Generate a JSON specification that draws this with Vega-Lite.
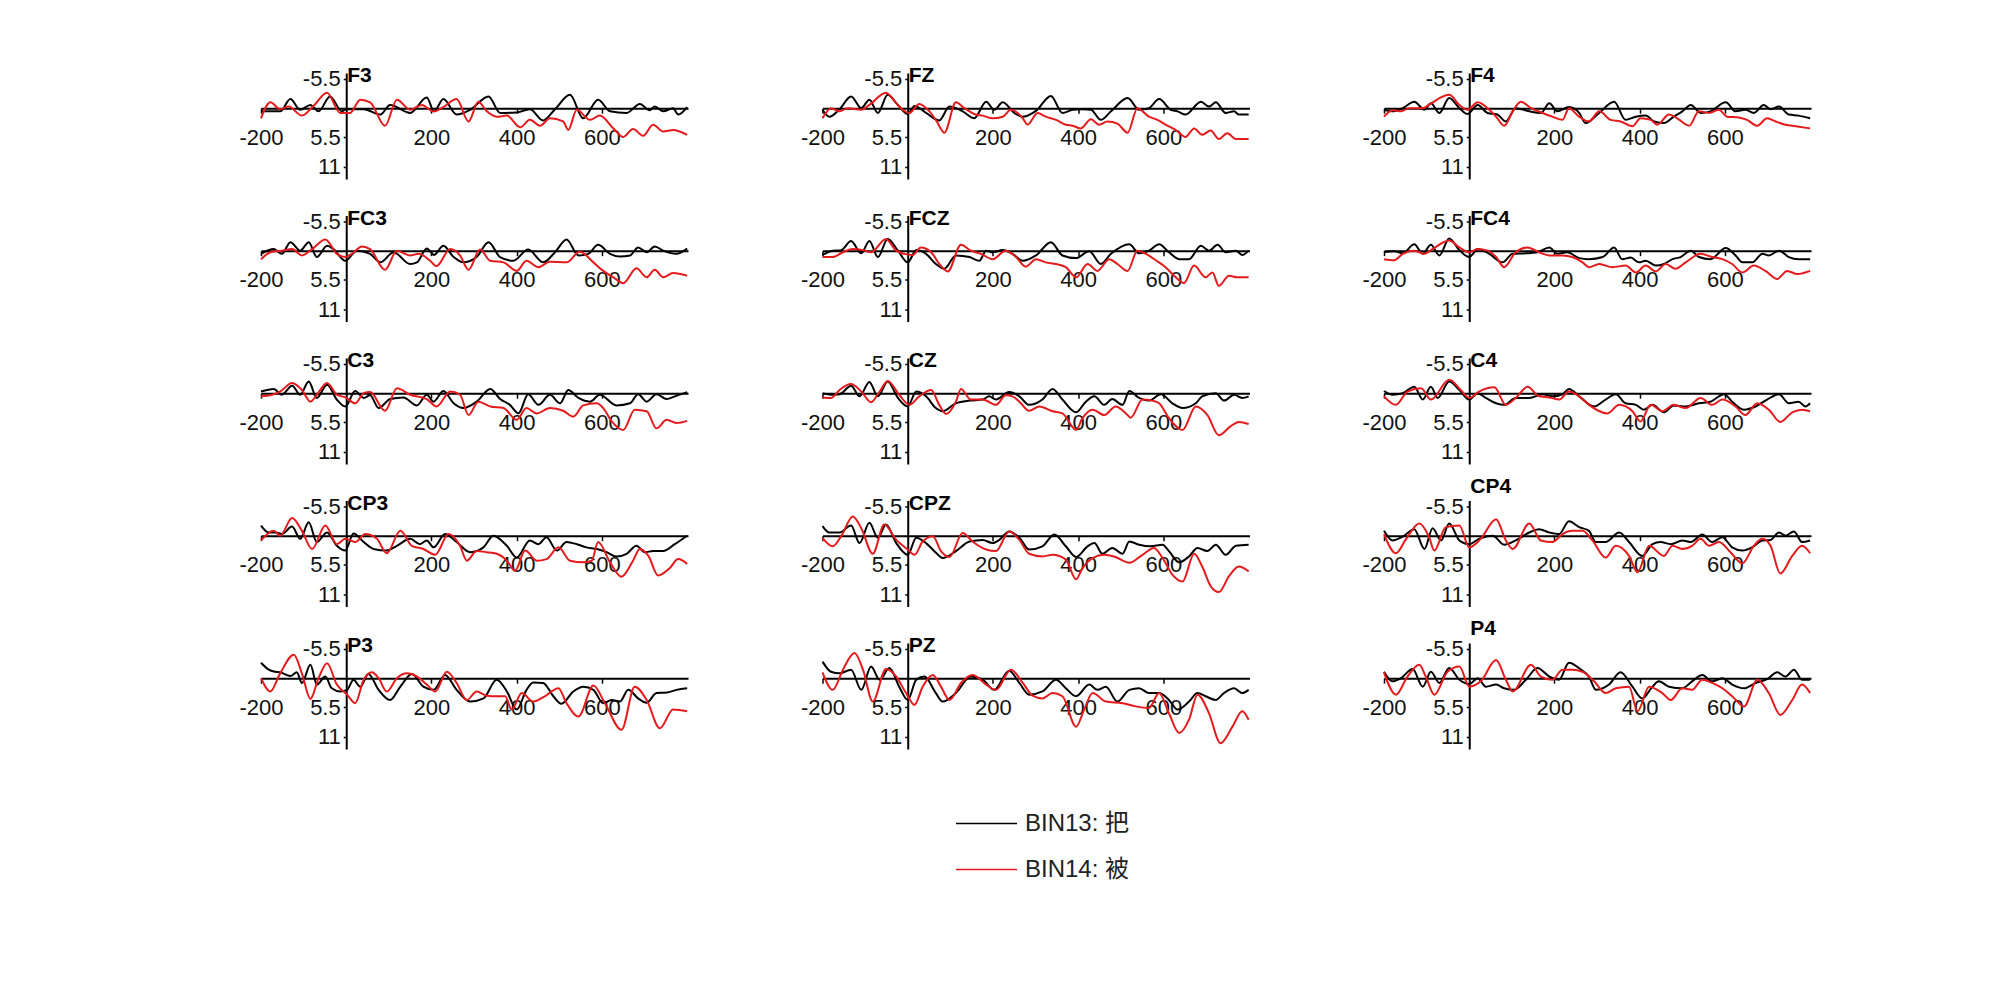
{
  "$schema": "https://vega.github.io/schema/vega-lite/v6.json",
  "background": "white",
  "padding": {"left": 238, "top": 65, "right": 5, "bottom": 5},
  "config": {"view": {"stroke": null}, "font": "Liberation Sans",
             "header": {"labels": false, "title": null, "labelFontSize": 0, "labelPadding": 0, "labelExpr": "''"},
             "headerFacet": {"labels": false, "title": null, "labelFontSize": 0, "labelPadding": 0, "labelExpr": "''"}},
  "data": {"values": [
    {"ch":"F3","bin":"BIN13: 把","t":[-200,-155,-131,-108,-84,-65,-38,-10,0,41,80,103,150,189,206,228,259,291,334,361,400,431,462,490,525,556,591,619,658,689,712,724,744,767,779,800],"v":[0.6,0.6,-1.7,0.3,-0.6,0.6,-2.2,0.6,0.2,0.2,1.2,-0.6,0.9,-2.0,0.6,-1.7,1.2,0.3,-2.2,0.9,0.8,0.2,2.3,0.2,-2.5,1.9,-1.6,0.6,0.9,-0.8,0.4,-0.3,0.6,0,1.2,-0.2]},
    {"ch":"F3","bin":"BIN14: 被","t":[-200,-178,-155,-135,-104,-77,-45,-14,9,33,56,91,119,150,177,205,228,259,287,310,330,353,377,408,431,455,478,509,521,541,572,595,627,650,673,697,720,744,767,800],"v":[1.9,-1.1,0.2,-0.3,1.4,-0.4,-2.9,0.9,0.9,-1.6,-1.1,3.3,-1.6,0.3,-0.6,0.6,-0.2,-1.7,2.5,-1.2,0.6,1.6,1.4,3.6,2.2,3.3,1.9,2.5,4.1,0.3,2.2,1.4,3.8,5.4,3.9,5.2,3.1,4.4,4.1,5.0]},
    {"ch":"FC3","bin":"BIN13: 把","t":[-200,-170,-151,-131,-108,-88,-69,-45,-30,-2,25,56,80,111,150,166,189,206,228,252,275,306,334,361,392,427,462,490,517,545,568,591,619,642,666,685,705,724,744,775,800],"v":[0.6,-0.3,0.6,-1.6,0,-1.6,1.2,-0.9,-0.3,1.9,0,0.6,2.2,0.3,2.5,2.2,-0.4,0.8,-0.9,1.2,2.2,1.2,-1.6,1.2,1.9,-0.2,2.2,0.3,-2.1,0.9,0.6,-1.1,0.6,1.1,0.9,-0.6,0.3,-0.8,0,0.6,-0.4]},
    {"ch":"FC3","bin":"BIN14: 被","t":[-200,-178,-151,-127,-104,-80,-49,-22,-2,13,37,56,91,119,150,170,197,212,244,267,287,314,338,369,400,423,451,478,517,548,580,603,627,650,681,705,724,744,767,800],"v":[1.6,0.3,0,-0.3,0.9,-0.3,-2.1,0.6,1.2,0.6,-0.8,-0.3,3.6,0,0.9,0.6,1.9,2.9,-0.3,0.9,3.6,-0.2,1.9,2.2,3.8,1.9,3.1,2.1,2.2,0.2,2.2,3.8,5.0,6.1,3.3,5.0,3.6,5.0,4.2,4.7]},
    {"ch":"C3","bin":"BIN13: 把","t":[-200,-170,-151,-127,-108,-88,-69,-45,-22,-2,21,41,56,76,103,134,166,189,205,228,252,275,306,338,361,384,404,427,451,478,502,521,545,572,595,634,666,685,705,728,752,771,800],"v":[-0.3,-0.8,0.3,-1.4,0.3,-2.2,0.9,-1.6,1.2,2.5,-0.4,0.9,0.4,2.8,1.1,0.8,2.3,0.3,1.6,-0.4,1.9,2.8,1.6,-0.8,1.1,2.2,3.8,0.2,2.2,0.3,1.9,-0.6,0.9,1.6,0.3,2.3,1.9,0.2,1.6,0.2,1.1,0.6,-0.2]},
    {"ch":"C3","bin":"BIN14: 被","t":[-200,-174,-155,-127,-104,-84,-69,-45,-22,-2,21,41,56,91,119,150,189,212,244,267,287,310,338,369,400,423,447,478,509,533,556,588,603,623,650,677,705,728,752,775,800],"v":[0.6,0.3,-0.3,-1.9,-0.6,1.6,0.3,-1.9,0.3,0.8,1.9,0,-0.2,3.3,-0.9,0.3,1.1,2.5,-0.3,0.3,4.1,1.6,2.5,2.8,5.0,2.8,3.8,2.8,3.3,4.4,2.3,1.9,2.8,5.3,6.9,3.1,3.4,6.6,5.0,5.6,5.2]},
    {"ch":"CP3","bin":"BIN13: 把","t":[-200,-182,-166,-151,-127,-108,-88,-69,-45,-22,-2,17,41,64,95,119,150,173,189,205,232,259,291,322,345,377,400,431,451,470,494,517,541,564,588,611,634,658,681,701,720,744,771,800],"v":[-1.9,-0.6,-0.6,-0.3,-1.7,0.6,-2.5,1.2,-0.6,1.9,2.8,-0.4,1.2,2.5,2.8,1.9,0.6,1.6,0.9,2.2,-0.3,1.2,3.1,2.2,0,1.9,4.1,0.9,1.6,0.3,2.8,1.2,1.6,2.2,2.5,3.1,3.9,3.4,1.9,3.1,2.9,2.9,1.6,0]},
    {"ch":"CP3","bin":"BIN14: 被","t":[-200,-170,-155,-127,-104,-80,-49,-22,-2,21,45,72,95,127,154,181,209,240,267,283,306,330,353,377,396,420,447,470,498,525,556,576,591,619,646,673,689,709,732,759,779,800],"v":[0.9,-0.9,0,-3.3,-0.9,2.5,-1.9,1.6,0.6,1.2,-0.3,0.6,3.3,-0.9,1.9,2.5,3.6,-0.3,1.9,4.7,2.9,3.1,3.4,4.7,6.6,2.8,4.7,4.4,2.2,4.7,5.0,4.7,1.2,5.0,7.7,4.7,2.5,3.8,7.5,6.1,4.4,5.3]},
    {"ch":"P3","bin":"BIN13: 把","t":[-200,-182,-166,-155,-131,-116,-104,-84,-69,-49,-34,-14,2,17,33,52,76,103,127,154,181,205,232,259,291,322,353,377,400,423,439,462,486,505,533,556,580,603,623,642,662,685,705,728,752,775,800],"v":[-2.9,-1.6,-1.2,-1.1,-0.4,-1.1,0.9,-2.5,1.2,-0.3,1.9,2.5,2.2,0.3,1.6,-0.8,2.2,4.1,1.6,-0.8,1.6,2.2,-0.6,2.2,4.4,3.8,0.3,2.5,5.9,2.2,0.8,0.9,3.4,4.8,2.5,1.6,2.2,4.7,4.1,4.4,2.2,3.8,4.6,2.8,2.7,2.2,1.9]},
    {"ch":"P3","bin":"BIN14: 被","t":[-200,-178,-155,-123,-104,-84,-65,-45,-22,2,21,41,60,76,95,119,142,166,189,209,236,259,283,306,330,353,373,388,412,439,466,498,517,545,580,607,646,677,705,736,767,800],"v":[0,2.5,-0.9,-4.4,-0.9,3.9,0,-2.8,1.2,3.1,4.7,0.3,-1.1,0,2.5,0,-0.9,-0.3,1.2,2.5,-1.2,0.9,4.1,2.5,3.3,3.4,3.4,5.9,2.8,4.4,3.4,1.9,4.7,7.2,1.4,4.7,9.7,1.6,4.1,9.4,5.9,6.2]},
    {"ch":"FZ","bin":"BIN13: 把","t":[-200,-184,-160,-133,-109,-90,-70,-47,-23,0,16,43,74,98,129,156,184,203,223,250,270,301,336,363,387,410,430,453,477,516,543,566,590,617,633,652,688,707,723,746,766,777,800],"v":[0.3,1.6,0.2,-2.2,0,-1.6,0.9,-2.5,-0.6,1.1,-0.4,0.9,2.3,-0.3,0.6,1.9,-1.2,0.3,-1.1,0.9,1.6,0.5,-2.3,0.9,0.3,0.2,0.3,2.2,0.6,-1.9,0.3,0,-1.7,0.3,0.6,1.2,-1.2,-0.3,-1.1,0.9,0.6,1.2,1.2]},
    {"ch":"FZ","bin":"BIN14: 被","t":[-200,-180,-160,-141,-109,-90,-51,-27,-12,4,27,51,66,86,113,133,160,176,199,223,242,270,281,305,324,348,371,387,406,430,449,469,492,516,539,566,586,605,629,652,672,691,711,730,750,770,800],"v":[1.9,0,0.6,0,0.3,-0.6,-2.9,-0.9,0.3,0.9,-0.8,0.6,2.2,4.6,-1.1,0,1.2,1.4,1.9,1.6,0.3,1.9,3.1,0.9,1.6,2.2,3.1,3.3,3.8,2.1,3.1,2.5,2.9,4.6,0,1.6,2.2,3.1,4.1,5.4,3.8,5.0,4.2,5.8,4.7,5.8,5.8]},
    {"ch":"FCZ","bin":"BIN13: 把","t":[-200,-176,-156,-133,-109,-90,-70,-47,-23,0,20,43,66,86,113,145,168,184,199,223,246,270,301,336,363,395,426,453,477,520,543,566,590,613,637,660,688,707,727,746,770,785,800],"v":[0.8,0,-0.1,-1.8,0.5,-1.8,1.2,-2.2,0,2.2,-0.1,0.6,2.5,3.4,0.9,1.2,1.9,0,0.3,-0.1,0.6,1.9,0.9,-1.6,0.9,1.4,0.1,2.5,0.6,-1.2,0.5,0,-1.2,0.3,1.6,1.6,-0.9,0,-1.1,0.3,0,0.8,0]},
    {"ch":"FCZ","bin":"BIN14: 被","t":[-200,-176,-152,-129,-105,-86,-51,-27,-8,12,31,55,74,94,125,148,172,199,230,254,277,301,324,348,371,395,422,445,473,492,516,539,559,582,605,629,648,672,699,715,730,754,773,800],"v":[1.2,1.2,0.3,-0.3,-0.1,0.3,-2.2,0,0.6,0.8,-0.6,0.3,2.5,3.9,-1.1,0,0.6,1.6,0,1.2,3.0,1.6,2.2,2.5,3.1,5.0,2.5,3.8,1.6,2.5,3.8,0,0.6,1.8,3.1,5.0,6.1,2.8,5.0,4.1,6.6,4.7,5.0,5.0]},
    {"ch":"CZ","bin":"BIN13: 把","t":[-200,-180,-160,-133,-113,-90,-70,-47,-23,0,20,43,66,82,113,145,176,191,207,238,262,285,316,340,363,395,418,438,461,480,504,520,543,566,594,621,645,676,691,723,742,766,785,800],"v":[0,0.3,0.2,-1.4,0.6,-2.1,0.6,-2.2,0.9,2.5,-0.3,0.6,2.8,3.4,1.9,1.4,1.2,0.6,1.2,-0.2,0.6,2.2,1.2,-0.8,1.2,3.6,1.6,0.6,2.2,1.1,2.2,-0.4,0.9,1.4,0.2,1.9,2.8,1.9,0.6,0,1.4,0.3,0.9,0.6]},
    {"ch":"CZ","bin":"BIN14: 被","t":[-200,-180,-160,-133,-109,-86,-66,-47,-20,4,27,55,74,90,113,125,148,176,207,230,246,262,285,309,340,363,395,410,434,461,488,512,523,551,574,590,613,645,676,703,730,758,777,800],"v":[0.8,0.9,-0.6,-1.7,-0.3,1.7,-0.3,-2.3,0.3,2.2,0.6,-0.6,2.2,3.9,1.6,-0.8,1.2,1.2,2.2,0.4,0.6,1.6,3.3,2.5,3.4,3.8,6.9,4.7,3.1,4.1,2.5,3.8,4.6,1.2,1.4,1.9,4.7,6.9,2.5,4.1,7.9,6.2,5.4,5.8]},
    {"ch":"CPZ","bin":"BIN13: 把","t":[-200,-184,-160,-133,-113,-90,-70,-51,-27,0,20,43,66,82,113,145,176,199,215,238,262,285,316,344,371,395,422,438,457,480,504,520,543,570,598,613,637,660,680,703,723,746,770,800],"v":[-1.8,-0.6,-0.6,-1.9,1.4,-2.4,0.4,-2.1,1.4,3.6,0.4,1.4,3.2,4.2,2.9,1.1,0.8,1.4,0.8,-0.8,0.4,2.6,2.0,-0.2,2.0,4.0,2.0,1.4,3.4,2.3,3.4,1.1,1.7,2.0,1.7,2.9,5.0,3.9,2.3,2.9,1.7,3.6,1.9,1.7]},
    {"ch":"CPZ","bin":"BIN14: 被","t":[-200,-176,-156,-129,-109,-82,-55,-27,0,16,35,59,78,98,129,152,184,207,238,262,285,316,340,371,395,410,434,461,484,520,551,578,598,621,645,672,691,711,730,754,777,800],"v":[0.4,2.0,0.1,-3.6,-1.4,3.4,-2.1,0.8,2.6,3.6,1.1,0.1,2.9,4.0,-0.5,1.1,2.6,2.9,-0.8,0.8,3.4,3.9,3.6,4.5,8.2,6.1,4.2,3.6,3.9,5.1,3.6,2.3,4.2,7.3,8.6,3.4,5.8,9.5,10.6,7.6,5.8,6.7]},
    {"ch":"PZ","bin":"BIN13: 把","t":[-200,-180,-160,-133,-109,-86,-66,-43,-20,0,20,39,66,82,113,148,176,203,238,262,285,316,348,371,395,426,445,465,492,520,543,566,590,613,633,660,680,699,723,742,766,785,800],"v":[-3.1,-1.2,-0.9,-1.6,2.2,-2.2,0.3,-1.9,1.6,4.1,0.3,-0.3,2.8,4.4,2.8,-0.3,0.3,2.2,-1.4,0.9,3.1,2.5,0.3,1.9,3.4,1.2,2.2,1.6,4.4,2.2,1.9,2.8,2.8,4.1,5.9,4.4,2.8,3.4,4.1,2.8,1.9,2.8,2.2]},
    {"ch":"PZ","bin":"BIN14: 被","t":[-200,-176,-152,-125,-105,-82,-51,-27,-4,16,35,59,78,98,125,152,184,207,242,270,293,316,340,363,395,414,434,465,504,535,566,590,613,637,660,680,707,734,762,785,800],"v":[-1.1,2.2,-1.6,-4.7,-1.6,4.4,-1.7,-0.3,2.8,5.0,1.6,-0.6,1.6,4.1,0.9,-0.6,1.2,2.2,-1.6,0.9,3.3,3.8,2.8,3.4,9.1,5.9,2.8,4.4,4.7,5.3,5.6,2.8,6.6,10.3,7.8,3.1,6.6,12.2,9.1,6.2,7.8]},
    {"ch":"F4","bin":"BIN13: 把","t":[-200,-180,-156,-129,-105,-90,-70,-47,-23,-4,20,43,66,86,109,141,168,188,207,234,258,273,305,340,367,391,414,434,457,480,500,520,543,566,602,625,648,668,691,707,727,750,773,800],"v":[0.3,0.6,0,-1.2,0.3,-0.9,0.9,-1.9,0,1.1,-0.6,0.9,1.2,2.5,0,0.6,0.9,-0.9,0.6,-0.2,0.9,2.8,0.9,-1.2,2.2,1.6,1.4,2.5,2.8,1.6,0.6,-0.6,0.9,0.6,-1.1,0.6,0.3,0.9,-0.6,0.2,-0.3,1.2,1.4,1.9]},
    {"ch":"F4","bin":"BIN14: 被","t":[-200,-180,-160,-141,-109,-90,-47,-23,-4,20,47,63,82,102,121,145,172,195,219,234,258,281,305,332,355,383,402,426,441,469,488,516,539,563,586,605,629,652,676,699,719,742,766,800],"v":[1.6,0.4,0.6,0,0,-0.9,-2.5,-0.6,0.3,-1.1,0.3,1.6,3.3,0.6,-1.2,0,0.9,1.6,2.2,0,1.6,2.5,0.6,2.2,2.5,3.4,1.9,2.2,3.1,1.2,1.9,3.3,0.6,0.9,0.3,1.6,1.7,2.2,3.3,1.9,2.5,3.1,3.4,3.8]},
    {"ch":"FC4","bin":"BIN13: 把","t":[-200,-176,-156,-129,-109,-90,-70,-47,-23,0,20,47,78,102,133,160,188,207,230,258,281,313,340,359,379,398,414,438,457,477,496,520,539,566,602,625,641,664,688,703,727,750,773,800],"v":[0.3,0.1,0.5,-1.2,0.6,-1.1,0.9,-2.3,-0.1,1.2,-0.3,0.6,2.2,0.6,0.5,0.3,-0.6,0.6,0.3,1.4,1.6,1.2,-0.6,1.6,1.3,2.2,1.9,2.8,2.5,1.6,1.2,0,1.2,1.6,-0.5,0.9,2.2,2.2,0.6,0.9,0,1.2,1.6,1.6]},
    {"ch":"FC4","bin":"BIN14: 被","t":[-200,-176,-156,-129,-105,-86,-47,-23,0,20,43,63,82,109,137,164,188,219,242,266,281,305,336,367,391,414,438,461,484,508,543,570,594,617,641,668,695,723,746,770,800],"v":[1.6,1.8,0.6,0,0.6,-0.3,-1.9,-0.6,0.3,-0.3,0,1.2,3.1,0.3,-0.6,0.3,0.9,0.9,1.2,2.2,3.1,2.5,3.1,2.8,4.1,2.8,3.9,2.5,3.4,2.2,0.6,1.2,1.6,2.5,4.1,2.8,3.8,5.3,3.8,4.4,3.8]},
    {"ch":"C4","bin":"BIN13: 把","t":[-200,-180,-156,-129,-109,-90,-74,-47,-23,0,20,39,63,82,109,141,172,195,219,234,258,293,320,344,367,391,410,430,457,480,508,539,566,598,617,645,672,699,727,750,773,789,800],"v":[-0.4,0.3,0,-1.2,1.2,-1.2,0.9,-2.2,-0.6,1.2,0,0.9,1.9,2.2,0.9,0.9,0.2,0.6,0.2,-0.8,0.6,2.5,1.2,0.2,1.9,2.2,3.1,2.2,3.6,2.3,2.5,1.9,1.6,0.2,1.6,3.1,2.5,1.2,0.2,1.9,1.6,2.5,1.9]},
    {"ch":"C4","bin":"BIN14: 被","t":[-200,-172,-145,-113,-90,-47,-20,0,23,59,86,109,137,164,188,211,234,258,281,324,352,383,402,426,453,480,508,543,570,594,625,648,676,703,730,758,781,800],"v":[0.6,2.2,-0.3,-0.9,1.2,-2.5,-0.6,0.9,-0.3,-1.1,2.2,0.9,-1.2,0.6,0.8,1.2,-0.3,0.6,2.2,3.8,2.2,3.4,5.3,2.2,3.4,2.2,2.8,0.9,2.2,1.2,2.5,4.1,1.9,3.1,5.4,3.6,3.1,3.4]},
    {"ch":"CP4","bin":"BIN13: 把","t":[-200,-180,-156,-129,-105,-86,-66,-47,-23,0,23,55,82,109,141,164,188,211,234,258,281,297,320,352,375,406,430,449,473,500,520,547,570,594,617,641,664,688,707,727,742,762,781,800],"v":[-0.9,0.9,0.2,-1.2,2.5,-1.4,0.9,-2.3,0.9,1.6,0.6,0,1.7,0.9,-0.6,-1.2,-0.6,-0.3,-2.7,-1.6,-0.9,1.2,1.2,-0.6,1.2,3.8,1.6,1.2,1.6,0.9,1.2,-0.2,1.2,0.3,2.2,2.8,2.2,0.9,0.8,-0.6,0,-0.8,1.2,0.9]},
    {"ch":"CP4","bin":"BIN14: 被","t":[-200,-172,-148,-117,-94,-82,-55,-23,0,27,63,86,102,141,168,195,219,242,266,289,320,344,375,395,422,457,477,500,523,543,563,586,613,641,668,688,707,730,758,781,800],"v":[-0.3,3.3,0.6,-2.3,0.3,2.8,-1.6,-1.9,2.2,0.6,-3.1,0.9,2.5,-2.3,0.9,1.2,-0.3,-0.9,-0.9,0.9,4.1,1.9,3.8,6.9,1.9,3.8,1.9,2.5,1.9,0.6,1.9,1.2,3.1,5.2,1.9,0.6,1.9,7.1,3.8,1.9,3.3]},
    {"ch":"P4","bin":"BIN13: 把","t":[-200,-180,-160,-133,-109,-90,-70,-47,-23,0,20,39,63,82,105,133,160,188,211,234,262,281,297,328,355,383,406,430,445,469,500,523,547,570,594,617,645,672,699,723,742,762,781,800],"v":[-1.2,0.6,0,-1.7,1.6,-1.2,0.9,-1.9,0.3,1.1,0,1.6,1.2,1.9,2.2,0.3,-1.9,-0.3,0.3,-2.9,-1.6,-0.3,2.2,1.2,-1.1,1.6,3.8,1.6,0.6,1.6,1.9,0.6,-0.6,0.6,0,1.2,1.9,0.9,0.2,-1.1,-0.3,-1.6,0.3,0.3]},
    {"ch":"P4","bin":"BIN14: 被","t":[-200,-172,-145,-117,-102,-82,-51,-23,0,27,63,86,102,145,168,195,219,242,266,293,320,344,375,395,422,453,473,500,523,547,570,594,617,645,676,703,730,758,781,800],"v":[-1.1,3.1,-0.3,-2.5,-0.3,3.1,-1.2,-2.2,1.6,0.6,-3.4,0.3,2.5,-2.5,-0.3,0.3,-1.6,-1.6,-1.2,0.6,2.8,1.9,1.6,6.2,1.6,2.8,4.1,1.9,2.2,0.3,0.9,1.9,3.4,5.3,0.3,2.8,6.9,4.1,1.2,2.8]}
  ]},
  "transform": [{"flatten": ["t", "v"]}],
  "facet": {
    "field": "ch", "type": "nominal",
    "sort": ["F3","FZ","F4","FC3","FCZ","FC4","C3","CZ","C4","CP3","CPZ","CP4","P3","PZ","P4"],
    "header": {"title": null, "labels": false, "labelFontSize": 0, "labelPadding": 0, "labelExpr": "''"}
  },
  "columns": 3,
  "bounds": "flush",
  "spacing": {"row": 36.5, "column": 134.5},
  "resolve": {"axis": {"x": "independent", "y": "independent"}},
  "spec": {
    "width": 427,
    "height": 106,
    "layer": [
      {
        "mark": {"type": "line", "strokeWidth": 2, "interpolate": "monotone"},
        "encoding": {
          "x": {"field": "t", "type": "quantitative",
                "scale": {"domain": [-200, 802], "nice": false, "zero": false},
                "axis": {"title": null, "grid": false, "values": [-200, 200, 400, 600], "offset": -70.84,
                         "labelExpr": "datum.value + ''",
                         "domainColor": "#000", "domainWidth": 2, "tickColor": "#000", "tickWidth": 1.5, "tickSize": 5,
                         "labelFontSize": 22, "labelColor": "#111", "labelPadding": 14, "labelFlush": false, "labelOverlap": false}},
          "y": {"field": "v", "type": "quantitative",
                "scale": {"domain": [-6.6, 13.3], "reverse": true, "nice": false, "zero": false},
                "axis": {"title": null, "grid": false, "values": [-5.5, 5.5, 11], "offset": -85.23,
                         "labelExpr": "datum.value + ''",
                         "domainColor": "#000", "domainWidth": 2, "tickColor": "#000", "tickWidth": 1.5, "tickSize": 3,
                         "labelFontSize": 22, "labelColor": "#111", "labelPadding": 3, "labelOverlap": false}},
          "color": {"field": "bin", "type": "nominal",
                    "scale": {"domain": ["BIN13: 把", "BIN14: 被"], "range": ["#000000", "#e41a1c"]},
                    "legend": {"title": null, "orient": "none", "legendX": 694, "legendY": 719,
                               "symbolType": "stroke", "symbolSize": 3721, "symbolStrokeWidth": 1.5,
                               "labelFontSize": 24, "labelFont": "Liberation Sans, Noto Sans CJK SC", "labelColor": "#222",
                               "labelOffset": 7, "rowPadding": 2}}
        }
      },
      {
        "transform": [{"filter": "datum.t === -200 && datum.bin === 'BIN13: 把' && datum.ch !== 'CP4' && datum.ch !== 'P4'"}],
        "mark": {"type": "text", "align": "left", "baseline": "alphabetic", "dx": 1, "dy": 9, "fontSize": 21, "fontWeight": "bold", "color": "#000"},
        "encoding": {
          "x": {"datum": 0, "type": "quantitative"},
          "y": {"datum": -6.6, "type": "quantitative"},
          "text": {"field": "ch", "type": "nominal"}
        }
      },
      {
        "transform": [{"filter": "datum.t === -200 && datum.bin === 'BIN13: 把' && (datum.ch === 'CP4' || datum.ch === 'P4')"}],
        "mark": {"type": "text", "align": "left", "baseline": "alphabetic", "dx": 1, "dy": -8, "fontSize": 21, "fontWeight": "bold", "color": "#000"},
        "encoding": {
          "x": {"datum": 0, "type": "quantitative"},
          "y": {"datum": -6.6, "type": "quantitative"},
          "text": {"field": "ch", "type": "nominal"}
        }
      }
    ]
  }
}
